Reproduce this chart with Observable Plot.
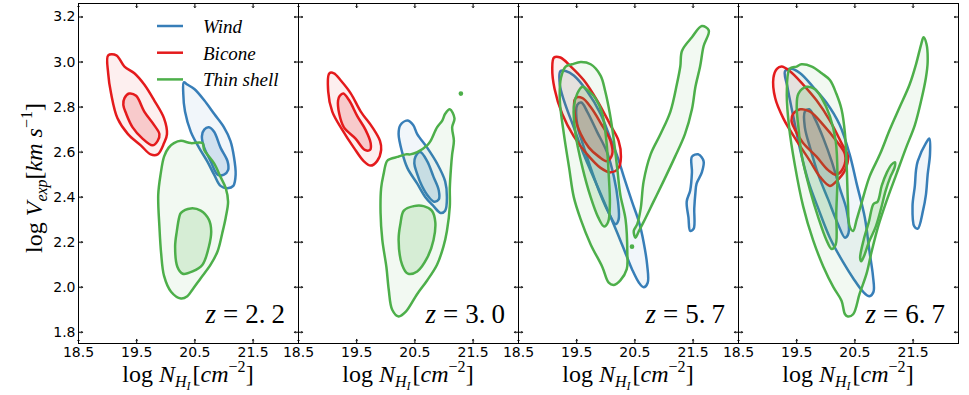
<!DOCTYPE html>
<html>
<head>
<meta charset="utf-8">
<script src="https://cdn.jsdelivr.net/npm/d3@7"></script>
<script src="https://cdn.jsdelivr.net/npm/@observablehq/plot@0.6"></script>
<style>
  html, body { margin: 0; padding: 0; background: #fff; }
  #chart svg { display: block; }
  #chart svg text.serif, #chart svg text.serif tspan { font-family: "Liberation Serif", "DejaVu Serif", serif !important; }
  #chart svg g[aria-label$="tick label"] text { font-family: "DejaVu Sans", sans-serif !important; font-size: 14px !important; }
</style>
</head>
<body>
<div id="chart"></div>
<script>
// ---------- data (log N_HI, log V_exp) ----------
const panels = ["2.2", "3.0", "5.7", "6.7"];
const models = ["Wind", "Bicone", "Thin shell"];
const colors = ["#377eb8", "#e41a1c", "#4daf4a"];
const xTicks = [18.5, 19.5, 20.5, 21.5];
const yTicks = [1.8, 2.0, 2.2, 2.4, 2.6, 2.8, 3.0, 3.2];

// z = 2.2
const p1Wind1 = [[20.31,2.91],[20.37,2.90],[20.49,2.88],[20.66,2.83],[20.83,2.77],[21.00,2.71],[21.11,2.65],[21.17,2.58],[21.20,2.50],[21.16,2.45],[21.06,2.44],[20.94,2.45],[20.83,2.50],[20.71,2.56],[20.57,2.62],[20.43,2.69],[20.33,2.78],[20.30,2.86]];
const p1Wind2 = [[20.66,2.70],[20.74,2.71],[20.83,2.69],[20.94,2.62],[21.06,2.56],[21.07,2.52],[21.00,2.50],[20.89,2.50],[20.77,2.56],[20.66,2.62],[20.62,2.67]];
const p1Bic1 = [[19.01,3.03],[19.15,3.03],[19.29,2.98],[19.46,2.95],[19.63,2.90],[19.80,2.83],[19.97,2.75],[20.02,2.68],[19.97,2.64],[19.86,2.59],[19.74,2.59],[19.57,2.63],[19.35,2.68],[19.17,2.75],[19.06,2.86],[19.01,2.95]];
const p1Bic2 = [[19.29,2.84],[19.37,2.86],[19.49,2.85],[19.63,2.78],[19.80,2.72],[19.89,2.68],[19.86,2.65],[19.77,2.63],[19.60,2.66],[19.43,2.71],[19.32,2.77],[19.27,2.81]];
const p1Thin1 = [[20.14,2.64],[20.26,2.65],[20.43,2.64],[20.63,2.64],[20.66,2.61],[20.83,2.55],[20.94,2.49],[21.03,2.44],[21.07,2.38],[21.03,2.31],[20.97,2.24],[20.89,2.16],[20.77,2.10],[20.60,2.04],[20.46,1.99],[20.37,1.96],[20.26,1.95],[20.09,1.98],[19.97,2.05],[19.92,2.15],[19.89,2.27],[19.87,2.41],[19.91,2.50],[19.97,2.58],[20.05,2.62]];
const p1Thin2 = [[20.26,2.33],[20.43,2.35],[20.60,2.34],[20.74,2.30],[20.78,2.25],[20.74,2.18],[20.63,2.10],[20.46,2.07],[20.29,2.06],[20.20,2.09],[20.16,2.18],[20.19,2.25],[20.23,2.31]];

// z = 3.0
const p2Wind1 = [[20.25,2.72],[20.37,2.74],[20.47,2.72],[20.54,2.68],[20.71,2.62],[20.88,2.55],[21.02,2.47],[21.05,2.40],[21.02,2.34],[20.94,2.33],[20.82,2.36],[20.68,2.40],[20.54,2.46],[20.37,2.53],[20.28,2.60],[20.22,2.68]];
const p2Wind2 = [[20.51,2.58],[20.59,2.60],[20.71,2.56],[20.82,2.49],[20.91,2.43],[20.91,2.39],[20.83,2.38],[20.74,2.40],[20.62,2.45],[20.53,2.51],[20.49,2.55]];
const p2Bic1 = [[19.03,2.95],[19.11,2.95],[19.22,2.92],[19.40,2.86],[19.57,2.78],[19.77,2.71],[19.90,2.65],[19.92,2.61],[19.85,2.56],[19.74,2.54],[19.62,2.56],[19.45,2.62],[19.25,2.70],[19.08,2.78],[19.01,2.87]];
const p2Bic2 = [[19.21,2.85],[19.27,2.86],[19.37,2.83],[19.51,2.76],[19.65,2.70],[19.74,2.64],[19.73,2.61],[19.64,2.61],[19.48,2.66],[19.28,2.71],[19.20,2.77],[19.18,2.83]];
const p2Thin1 = [[20.08,2.57],[20.22,2.58],[20.34,2.59],[20.42,2.59],[20.54,2.60],[20.71,2.63],[20.77,2.65],[20.88,2.71],[20.97,2.74],[21.02,2.77],[21.10,2.79],[21.18,2.75],[21.14,2.71],[21.17,2.65],[21.14,2.59],[21.12,2.53],[21.10,2.44],[21.10,2.36],[21.05,2.25],[20.99,2.18],[20.88,2.10],[20.71,2.03],[20.54,1.97],[20.34,1.89],[20.22,1.87],[20.11,1.90],[20.05,1.99],[20.01,2.09],[19.94,2.21],[19.91,2.33],[19.92,2.44],[19.96,2.50],[20.02,2.56]];
const p2Thin2 = [[20.31,2.34],[20.48,2.36],[20.65,2.36],[20.79,2.34],[20.85,2.29],[20.82,2.21],[20.71,2.13],[20.54,2.07],[20.38,2.06],[20.28,2.10],[20.22,2.21],[20.25,2.28]];

// z = 5.7
const p3Wind1 = [[19.22,2.96],[19.31,2.96],[19.45,2.94],[19.68,2.87],[19.91,2.77],[20.08,2.66],[20.20,2.58],[20.31,2.49],[20.45,2.38],[20.57,2.29],[20.65,2.20],[20.71,2.10],[20.72,2.02],[20.65,2.00],[20.57,2.02],[20.45,2.08],[20.34,2.15],[20.20,2.24],[20.02,2.35],[19.82,2.47],[19.62,2.59],[19.45,2.71],[19.28,2.83],[19.21,2.90]];
const p3Wind2 = [[19.51,2.81],[19.58,2.82],[19.68,2.78],[19.85,2.69],[20.02,2.60],[20.14,2.49],[20.21,2.38],[20.22,2.30],[20.17,2.28],[20.05,2.33],[19.91,2.41],[19.74,2.53],[19.60,2.64],[19.51,2.72]];
const p3Wind3 = [[21.48,2.58],[21.59,2.59],[21.68,2.56],[21.65,2.51],[21.56,2.46],[21.54,2.42],[21.52,2.35],[21.51,2.26],[21.45,2.25],[21.42,2.31],[21.39,2.38],[21.45,2.43],[21.48,2.51]];
const p3Bic1 = [[19.11,3.02],[19.22,3.02],[19.40,2.98],[19.62,2.92],[19.85,2.83],[20.08,2.72],[20.22,2.65],[20.26,2.58],[20.22,2.53],[20.08,2.51],[19.91,2.53],[19.68,2.59],[19.45,2.67],[19.25,2.77],[19.12,2.88],[19.08,2.97]];
const p3Bic2 = [[19.48,2.84],[19.60,2.84],[19.74,2.80],[19.91,2.73],[20.08,2.65],[20.11,2.59],[20.02,2.56],[19.88,2.58],[19.71,2.62],[19.57,2.68],[19.47,2.76]];
const p3Thin1 = [[19.31,2.98],[19.42,2.99],[19.57,3.00],[19.74,2.99],[19.91,2.94],[19.99,2.87],[20.07,2.77],[20.14,2.65],[20.20,2.52],[20.25,2.41],[20.34,2.30],[20.37,2.15],[20.36,2.08],[20.25,2.03],[20.14,2.01],[20.05,2.02],[19.94,2.09],[19.74,2.19],[19.57,2.30],[19.45,2.40],[19.37,2.53],[19.28,2.68],[19.21,2.83],[19.23,2.93]];
const p3Thin2 = [[19.51,2.86],[19.60,2.89],[19.71,2.87],[19.82,2.84],[19.94,2.77],[20.01,2.65],[20.05,2.50],[20.07,2.37],[20.04,2.29],[19.97,2.27],[19.87,2.31],[19.74,2.40],[19.60,2.53],[19.48,2.68],[19.45,2.80]];
const p3Thin3 = [[20.48,2.25],[20.54,2.28],[20.60,2.35],[20.65,2.47],[20.77,2.59],[20.94,2.68],[21.11,2.78],[21.22,2.90],[21.28,2.98],[21.31,3.05],[21.48,3.11],[21.65,3.16],[21.77,3.14],[21.68,3.07],[21.62,2.98],[21.54,2.89],[21.48,2.79],[21.36,2.68],[21.19,2.58],[20.99,2.47],[20.82,2.38],[20.65,2.29],[20.57,2.25],[20.51,2.22]];

// z = 6.7
const p4Wind1 = [[19.30,2.96],[19.41,2.97],[19.56,2.95],[19.78,2.89],[20.01,2.82],[20.24,2.72],[20.41,2.59],[20.53,2.46],[20.67,2.31],[20.75,2.16],[20.81,2.05],[20.82,1.98],[20.75,1.96],[20.64,1.98],[20.47,2.04],[20.30,2.11],[20.07,2.22],[19.87,2.35],[19.70,2.47],[19.56,2.61],[19.44,2.76],[19.34,2.89]];
const p4Wind2 = [[19.64,2.78],[19.72,2.79],[19.81,2.75],[19.96,2.66],[20.10,2.56],[20.24,2.44],[20.36,2.34],[20.39,2.24],[20.33,2.22],[20.21,2.28],[20.04,2.39],[19.87,2.50],[19.73,2.62],[19.64,2.71]];
const p4Wind3 = [[21.58,2.56],[21.72,2.64],[21.78,2.66],[21.79,2.59],[21.75,2.50],[21.72,2.41],[21.67,2.34],[21.58,2.26],[21.52,2.27],[21.49,2.36],[21.53,2.45],[21.55,2.52]];
const p4Bic1 = [[19.16,2.97],[19.24,2.98],[19.38,2.96],[19.61,2.90],[19.84,2.83],[20.07,2.74],[20.27,2.64],[20.38,2.58],[20.33,2.52],[20.18,2.47],[20.07,2.45],[19.90,2.49],[19.73,2.56],[19.50,2.65],[19.27,2.75],[19.13,2.84],[19.10,2.93]];
const p4Bic2 = [[19.44,2.77],[19.56,2.79],[19.73,2.78],[19.96,2.72],[20.18,2.65],[20.33,2.59],[20.30,2.53],[20.18,2.50],[20.04,2.52],[19.84,2.58],[19.61,2.64],[19.47,2.70],[19.41,2.74]];
const p4Thin1 = [[19.38,2.97],[19.50,2.98],[19.58,2.99],[19.76,2.98],[19.93,2.95],[20.07,2.92],[20.18,2.86],[20.27,2.79],[20.33,2.68],[20.36,2.53],[20.38,2.38],[20.41,2.27],[20.47,2.25],[20.53,2.30],[20.61,2.37],[20.75,2.49],[20.93,2.59],[21.10,2.70],[21.27,2.80],[21.44,2.90],[21.55,2.99],[21.64,3.08],[21.68,3.11],[21.73,3.08],[21.75,3.00],[21.72,2.93],[21.64,2.83],[21.53,2.72],[21.38,2.62],[21.21,2.50],[21.04,2.38],[20.90,2.27],[20.78,2.15],[20.70,2.06],[20.58,1.97],[20.47,1.88],[20.38,1.87],[20.33,1.88],[20.27,1.94],[20.13,2.00],[19.96,2.09],[19.78,2.21],[19.61,2.36],[19.47,2.54],[19.37,2.71],[19.33,2.86]];
const p4Thin2 = [[19.53,2.86],[19.67,2.89],[19.81,2.88],[19.93,2.84],[20.07,2.76],[20.17,2.65],[20.20,2.50],[20.18,2.33],[20.17,2.19],[20.10,2.17],[20.01,2.21],[19.87,2.31],[19.73,2.43],[19.59,2.58],[19.53,2.71],[19.50,2.80]];
const p4Thin3 = [[20.59,2.13],[20.65,2.21],[20.74,2.29],[20.82,2.37],[20.89,2.38],[20.96,2.45],[21.05,2.51],[21.13,2.545],[21.19,2.555],[21.18,2.53],[21.11,2.49],[21.03,2.43],[20.95,2.35],[20.86,2.27],[20.74,2.20],[20.66,2.14],[20.61,2.115]];

// tiny isolated contour islands
const islandPanels = ["3.0", "5.7"];
const islandPoints = [[21.29, 2.86], [20.45, 2.18]];

// ---------- build tables ----------
const contours = [
  ["2.2","Wind",1,p1Wind1],["2.2","Wind",2,p1Wind2],["2.2","Bicone",1,p1Bic1],["2.2","Bicone",2,p1Bic2],["2.2","Thin shell",1,p1Thin1],["2.2","Thin shell",2,p1Thin2],
  ["3.0","Wind",1,p2Wind1],["3.0","Wind",2,p2Wind2],["3.0","Bicone",1,p2Bic1],["3.0","Bicone",2,p2Bic2],["3.0","Thin shell",1,p2Thin1],["3.0","Thin shell",2,p2Thin2],
  ["5.7","Wind",1,p3Wind1],["5.7","Wind",2,p3Wind2],["5.7","Wind",1,p3Wind3],["5.7","Bicone",1,p3Bic1],["5.7","Bicone",2,p3Bic2],["5.7","Thin shell",1,p3Thin1],["5.7","Thin shell",2,p3Thin2],["5.7","Thin shell",1,p3Thin3],
  ["6.7","Wind",1,p4Wind1],["6.7","Wind",2,p4Wind2],["6.7","Wind",1,p4Wind3],["6.7","Bicone",1,p4Bic1],["6.7","Bicone",2,p4Bic2],["6.7","Thin shell",1,p4Thin1],["6.7","Thin shell",2,p4Thin2],["6.7","Thin shell",2,p4Thin3]
];
const rows = [];
contours.forEach(([panel, model, level, pts], i) => {
  pts.forEach(([x, y]) => rows.push({panel, model, level, id: i, x, y}));
});
const islands = islandPoints.map(([x, y], i) => ({panel: islandPanels[i], model: "Thin shell", x, y}));

const curve = "catmull-rom-closed";
const contourMarks = [];
for (const m of models) {
  for (const lvl of [1, 2]) {
    contourMarks.push(Plot.line(rows.filter(d => d.model === m && d.level === lvl), {
      x: "x", y: "y", z: "id", fx: "panel", curve,
      stroke: "model", fill: "model",
      fillOpacity: lvl === 1 ? 0.07 : 0.17,
      strokeWidth: 2.5, strokeLinejoin: "round"
    }));
  }
}

const W = 969, H = 395, ML = 77, MR = 10, MT = 3, MB = 52;

const plot = Plot.plot({
  width: W, height: H,
  marginLeft: ML, marginRight: MR, marginTop: MT, marginBottom: MB,
  style: {background: "#fff", fontFamily: "DejaVu Sans, sans-serif", fontSize: "14px", color: "#000"},
  fx: {domain: panels, padding: 0, axis: null, label: null},
  x: {domain: [18.5, 22.28], label: null},
  y: {domain: [1.75, 3.26], label: null},
  color: {domain: models, range: colors},
  marks: [
    ...contourMarks,
    Plot.dot(islands, {x: "x", y: "y", fx: "panel", r: 1.6, fill: "model", stroke: "model"}),
    Plot.frame({stroke: "#000", strokeWidth: 1}),
    // inward ticks on all four sides
    Plot.vector(xTicks, {x: d => d, frameAnchor: "bottom", anchor: "start", rotate: 0, length: 4, stroke: "#000", strokeWidth: 1}),
    Plot.vector(xTicks, {x: d => d, frameAnchor: "top", anchor: "start", rotate: 180, length: 4, stroke: "#000", strokeWidth: 1}),
    Plot.vector(yTicks, {y: d => d, frameAnchor: "left", anchor: "start", rotate: 90, length: 4, stroke: "#000", strokeWidth: 1}),
    Plot.vector(yTicks, {y: d => d, frameAnchor: "right", anchor: "start", rotate: -90, length: 4, stroke: "#000", strokeWidth: 1}),
    Plot.axisX(xTicks, {tickSize: 0, tickPadding: 4, tickFormat: d3.format(".1f"), fontSize: 14, fill: "#000", label: null}),
    Plot.axisY(yTicks, {tickSize: 0, tickPadding: 3, tickFormat: d3.format(".1f"), fontSize: 14, fill: "#000", label: null})
  ]
});

document.getElementById("chart").appendChild(plot);

// ---------- rich-text labels ----------
const svg = d3.select(plot);
let fxs = null;
try { fxs = plot.scale("fx"); } catch (e) { fxs = null; }
const fw = (W - ML - MR) / panels.length;
const left = k => (fxs && fxs.apply ? fxs.apply(k) : ML + panels.indexOf(k) * fw);
const bw = fxs && fxs.bandwidth ? fxs.bandwidth : fw;

function serifText(sel, anchor) {
  return sel.attr("class", "serif")
    .style("font-family", "'Liberation Serif', 'DejaVu Serif', serif")
    .attr("text-anchor", anchor).style("text-anchor", anchor)
    .attr("fill", "#000");
}
function rich(g, parts) {
  for (const p of parts) {
    const t = g.append("tspan").text(p.t);
    t.style("font-style", p.i ? "italic" : "normal");
    if (p.s) t.style("font-size", p.s + "px");
    if (p.dy) t.attr("dy", p.dy);
    if (p.dx) t.attr("dx", p.dx);
  }
}

panels.forEach(k => {
  const x0 = left(k);
  // x label
  const xl = serifText(svg.append("text"), "middle")
    .attr("x", x0 + bw / 2).attr("y", 382).style("font-size", "24px");
  rich(xl, [{t: "log "}, {t: "N", i: 1}, {t: "H", i: 1, s: 16, dy: 5}, {t: "I", i: 1, s: 12, dy: 3},
            {t: "[", s: 24, dy: -8, dx: 2}, {t: "cm", i: 1}, {t: "−2", s: 16, dy: -10}, {t: "]", s: 24, dy: 10}]);
  // redshift label
  const zl = serifText(svg.append("text"), "end")
    .attr("x", x0 + bw - 13).attr("y", 323).style("font-size", "27px");
  const [a, b] = k.split(".");
  rich(zl, [{t: "z", i: 1}, {t: "=", dx: 7}, {t: a + ".", dx: 7}, {t: b, dx: 6}]);
});

// y label
const yl = serifText(svg.append("text"), "middle")
  .attr("transform", "translate(42,178) rotate(-90)").style("font-size", "24px");
rich(yl, [{t: "log "}, {t: "V", i: 1}, {t: "exp", i: 1, s: 16, dy: 5}, {t: "[", s: 24, dy: -5},
          {t: "km s", i: 1}, {t: "−1", s: 16, dy: -10}, {t: "]", s: 24, dy: 10}]);

// legend (inside the first panel)
const lg = svg.append("g");
models.forEach((m, i) => {
  const y = 26 + i * 26.7;
  lg.append("line").attr("x1", 157).attr("x2", 183).attr("y1", y).attr("y2", y)
    .attr("stroke", colors[i]).attr("stroke-width", 2.5);
  serifText(lg.append("text"), "start").attr("x", 203).attr("y", y + 7)
    .style("font-style", "italic").style("font-size", "19px")
    .text(m);
});
</script>
</body>
</html>
